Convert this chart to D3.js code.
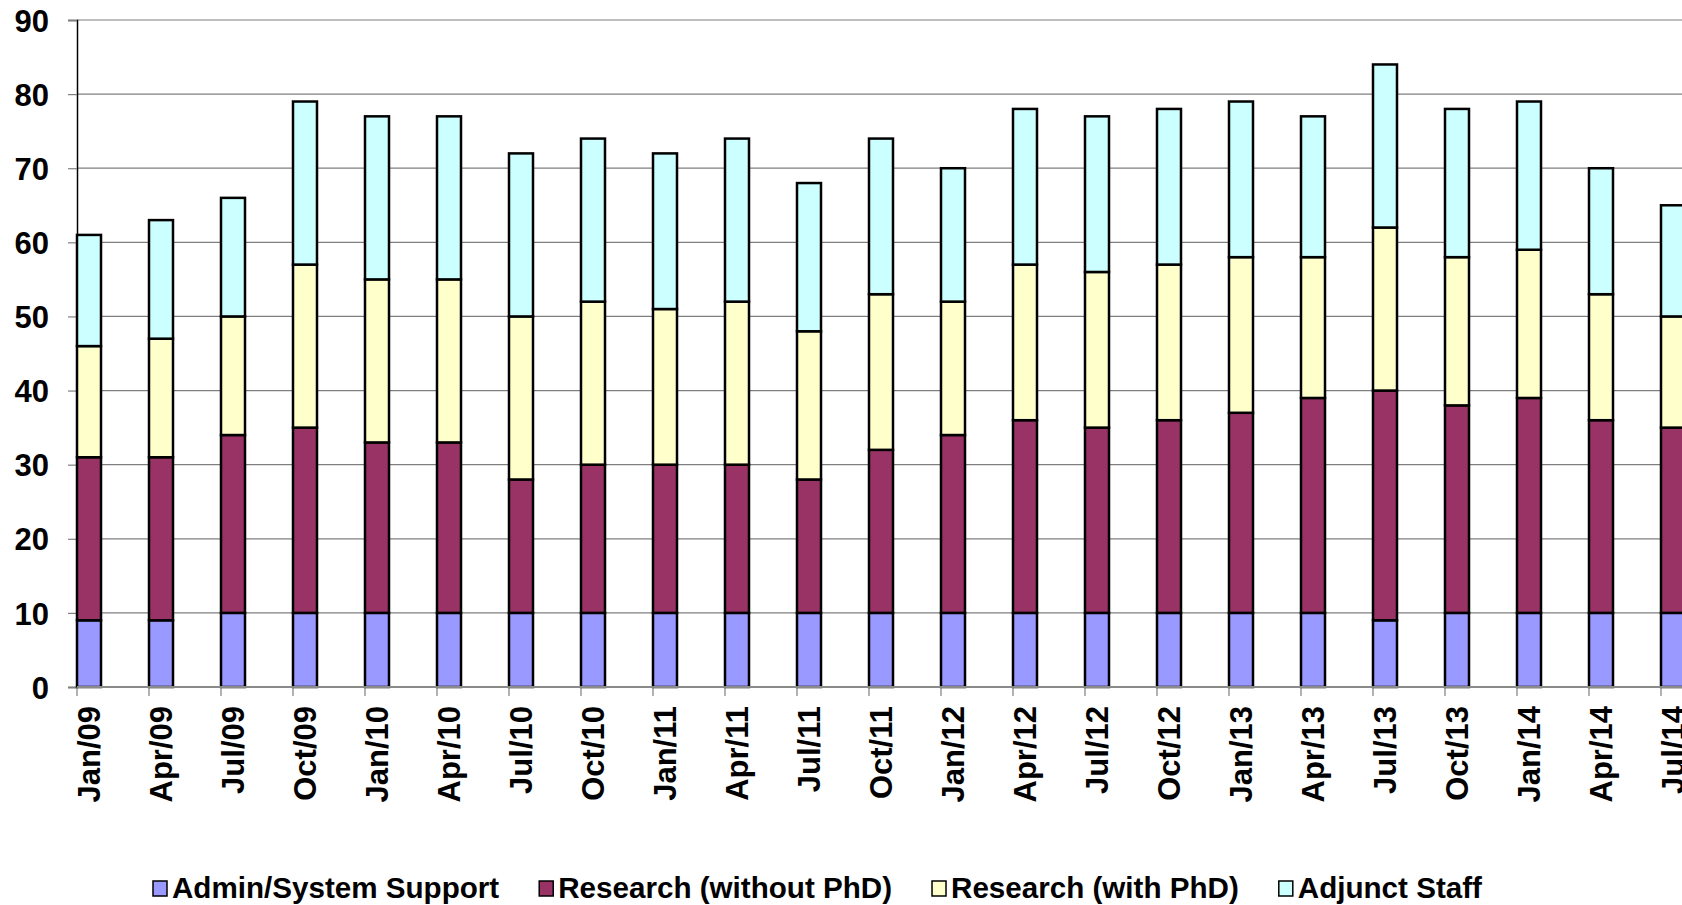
<!DOCTYPE html>
<html>
<head>
<meta charset="utf-8">
<script src="https://cdn.jsdelivr.net/npm/d3@7"></script>
<style>
  body { margin: 0; background: #fff; }
  text { font-family: "Liberation Sans", Arial, sans-serif; font-weight: bold; }
</style>
</head>
<body>
<svg id="chart" width="1682" height="905"></svg>
<script>
// quarterly staff counts
const categories = ['Jan/09','Apr/09','Jul/09','Oct/09','Jan/10','Apr/10','Jul/10','Oct/10',
  'Jan/11','Apr/11','Jul/11','Oct/11','Jan/12','Apr/12','Jul/12','Oct/12',
  'Jan/13','Apr/13','Jul/13','Oct/13','Jan/14','Apr/14','Jul/14'];

const adminSupport = [9,9,10,10,10,10,10,10,10,10,10,10,10,10,10,10,10,10,9,10,10,10,10];
const researchNoPhd = [22,22,24,25,23,23,18,20,20,20,18,22,24,26,25,26,27,29,31,28,29,26,25];
const researchPhd = [15,16,16,22,22,22,22,22,21,22,20,21,18,21,21,21,21,19,22,20,20,17,15];
const adjunctStaff = [15,16,16,22,22,22,22,22,21,22,20,21,18,21,21,21,21,19,22,20,20,17,15];

const seriesNames = ['Admin/System Support','Research (without PhD)','Research (with PhD)','Adjunct Staff'];
const seriesColors = ['#9999FF','#993366','#FFFFCC','#CCFFFF'];
const yTicks = [0,10,20,30,40,50,60,70,80,90];

const svg = d3.select('#chart');
const W = 1682;

const rows = categories.map(function(c, i){
  return {
    cat: c,
    s0: adminSupport[i],
    s1: researchNoPhd[i],
    s2: researchPhd[i],
    s3: adjunctStaff[i]
  };
});

const x = d3.scaleBand()
  .domain(categories)
  .range([77, 1685])
  .paddingInner(2/3)
  .paddingOuter(0)
  .align(0);

const y = d3.scaleLinear().domain([0, 90]).range([687, 20]);

// gridlines
svg.append('g')
  .selectAll('line')
  .data(yTicks.filter(d => d > 0))
  .join('line')
  .attr('x1', 77).attr('x2', W)
  .attr('y1', d => y(d)).attr('y2', d => y(d))
  .attr('stroke', '#7f7f7f')
  .attr('stroke-width', 1.2);

// y axis
const yAxis = svg.append('g')
  .attr('transform', 'translate(77,0)')
  .call(d3.axisLeft(y).tickValues(yTicks).tickSize(9).tickPadding(19));
yAxis.select('.domain').attr('stroke', '#000').attr('stroke-width', 1.5);
yAxis.selectAll('.tick line').attr('stroke', '#7f7f7f').attr('stroke-width', 1.2);
yAxis.selectAll('.tick text')
  .attr('fill', '#000')
  .style('font-size', '31px')
  .attr('dy', '0.36em');

// bars
const stack = d3.stack().keys(['s0','s1','s2','s3']);
const layers = stack(rows);

svg.append('g')
  .selectAll('g')
  .data(layers)
  .join('g')
  .attr('fill', (d, i) => seriesColors[i])
  .selectAll('rect')
  .data(d => d)
  .join('rect')
  .attr('x', d => x(d.data.cat))
  .attr('width', x.bandwidth())
  .attr('y', d => y(d[1]))
  .attr('height', d => y(d[0]) - y(d[1]))
  .attr('stroke', '#000')
  .attr('stroke-width', 2.5);

// x axis
const xAxisG = svg.append('g').attr('transform', 'translate(0,687)');
xAxisG.append('line')
  .attr('x1', 77).attr('x2', W)
  .attr('stroke', '#8a8a8a').attr('stroke-width', 2);
xAxisG.selectAll('line.tick')
  .data(categories)
  .join('line')
  .attr('class', 'tick')
  .attr('x1', d => x(d)).attr('x2', d => x(d))
  .attr('y1', 0).attr('y2', 9)
  .attr('stroke', '#7f7f7f').attr('stroke-width', 1.2);
xAxisG.selectAll('text')
  .data(categories)
  .join('text')
  .attr('transform', d => 'translate(' + (x(d) + x.bandwidth() / 2) + ',19) rotate(-90)')
  .attr('text-anchor', 'end')
  .attr('dy', '0.36em')
  .style('font-size', '31px')
  .attr('fill', '#000')
  .text(d => d);

// legend
const legend = svg.append('g');
let lx = 153;
seriesNames.forEach(function(name, i){
  legend.append('rect')
    .attr('x', lx).attr('y', 881)
    .attr('width', 14).attr('height', 15)
    .attr('fill', seriesColors[i])
    .attr('stroke', '#000').attr('stroke-width', 1.5);
  const t = legend.append('text')
    .attr('x', lx + 19).attr('y', 898)
    .style('font-size', '29.6px')
    .attr('fill', '#000')
    .text(name);
  lx += 19 + t.node().getComputedTextLength() + 40;
});
</script>
</body>
</html>
